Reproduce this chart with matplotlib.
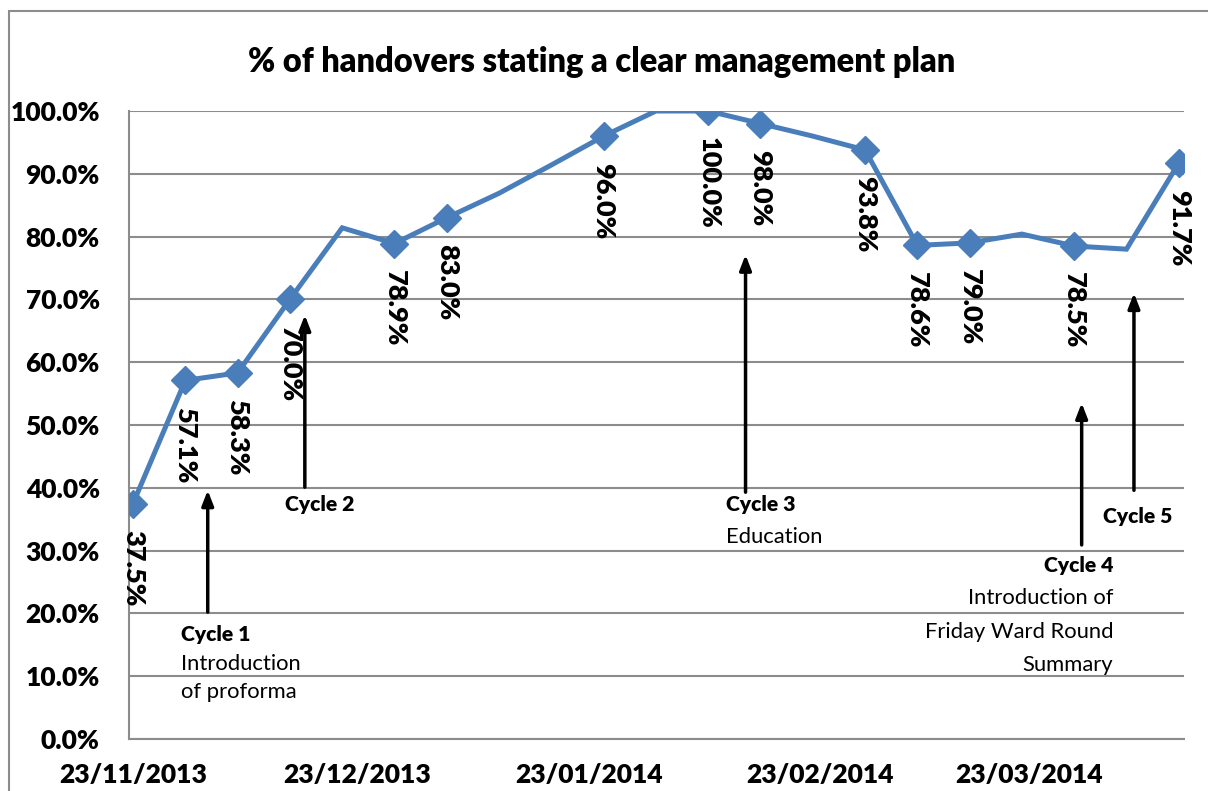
import matplotlib
matplotlib.use("Agg")
import matplotlib.pyplot as plt
import matplotlib.dates as mdates
from matplotlib.patches import Rectangle
from datetime import date

plt.rcParams['font.family'] = ['Lato', 'DejaVu Sans']

# weekly audit dates and % of handovers with a clear plan
dates = [date(2013, 11, 23), date(2013, 11, 30), date(2013, 12, 7), date(2013, 12, 14),
         date(2013, 12, 21), date(2013, 12, 28), date(2014, 1, 4), date(2014, 1, 11),
         date(2014, 1, 18), date(2014, 1, 25), date(2014, 2, 1), date(2014, 2, 8),
         date(2014, 2, 15), date(2014, 2, 22), date(2014, 3, 1), date(2014, 3, 8),
         date(2014, 3, 15), date(2014, 3, 22), date(2014, 3, 29), date(2014, 4, 5),
         date(2014, 4, 12)]
values = [37.5, 57.1, 58.3, 70.0, 81.4, 78.9, 83.0, 86.9, 91.4, 96.0, 100.0,
          100.0, 98.0, 96.0, 93.8, 78.6, 79.0, 80.4, 78.5, 78.0, 91.7]
# which weeks got a marker + label
labelled = [True, True, True, True, False, True, True, False, False, True, False,
            True, True, False, True, True, True, False, True, False, True]

tick_dates = [date(2013, 11, 23), date(2013, 12, 23), date(2014, 1, 23),
              date(2014, 2, 23), date(2014, 3, 23)]

# cycle annotations: arrow x, arrow tail y, arrow head y
cycle_x = [date(2013, 12, 3), date(2013, 12, 16), date(2014, 2, 13), date(2014, 3, 30), date(2014, 4, 6)]
cycle_y0 = [20.2, 40.1, 39.3, 30.9, 39.6]
cycle_y1 = [39.6, 67.5, 77.1, 53.5, 71.0]

blue = '#4A7EBB'
grid_c = '#8C8C8C'
W = 'heavy'

fig = plt.figure(figsize=(12.08, 7.91), dpi=100)
fig.patches.append(Rectangle((9 / 1208, -0.1), 1.2, 1 - 11 / 791 + 0.1, transform=fig.transFigure,
                             fill=False, edgecolor=grid_c, linewidth=1.5))
ax = fig.add_axes([129 / 1208, 1 - 739 / 791, (1184 - 129) / 1208, (739 - 111) / 791])

ax.plot(dates, values, color=blue, lw=3.6, zorder=3, solid_joinstyle='miter')
md = [d for d, l in zip(dates, labelled) if l]
mv = [v for v, l in zip(values, labelled) if l]
ax.plot(md, mv, ls='none', marker='D', ms=14, color=blue, zorder=4)
for d, v in zip(md, mv):
    ax.annotate('%.1f%%' % v, (d, v), xytext=(0, -19), textcoords='offset points',
                rotation=-90, ha='center', va='top', fontsize=19.5, fontweight=W)

x0 = mdates.date2num(date(2013, 11, 23))
ax.set_xlim(x0 - 0.54, x0 + 140.7)
ax.set_ylim(0, 100)
ax.set_yticks(range(0, 101, 10))
ax.set_yticklabels(['%.1f%%' % t for t in range(0, 101, 10)])
ax.set_xticks(tick_dates)
ax.set_xticklabels([d.strftime('%d/%m/%Y') for d in tick_dates])
ax.tick_params(axis='both', length=0, labelsize=19)
ax.tick_params(axis='y', pad=21)
ax.tick_params(axis='x', pad=17)
for lab in ax.get_xticklabels() + ax.get_yticklabels():
    lab.set_fontweight(W)
ax.grid(axis='y', color=grid_c, lw=1.5)
ax.set_axisbelow(True)
for s in ['top', 'right']:
    ax.spines[s].set_visible(False)
ax.spines['left'].set_color(grid_c)
ax.spines['bottom'].set_color(grid_c)
ax.spines['left'].set_linewidth(1.5)
ax.spines['bottom'].set_linewidth(1.5)

for cx, ya, yb in zip(cycle_x, cycle_y0, cycle_y1):
    ax.annotate('', xy=(cx, yb), xytext=(cx, ya),
                arrowprops=dict(arrowstyle='-|>,head_length=0.9,head_width=0.35', color='black', lw=2.5,
                                shrinkA=0, shrinkB=0), zorder=5)

def day(n):
    return x0 + n

fs = 15.8
ax.text(day(6.4), 16.6, 'Cycle 1', fontsize=fs - 0.6, fontweight=W, va='center', ha='left')
ax.text(day(6.4), 11.9, 'Introduction', fontsize=fs, va='center', ha='left')
ax.text(day(6.4), 7.5, 'of proforma', fontsize=fs, va='center', ha='left')
ax.text(day(20.3), 37.3, 'Cycle 2', fontsize=fs - 0.6, fontweight=W, va='center', ha='left')
ax.text(day(79.4), 37.3, 'Cycle 3', fontsize=fs - 0.6, fontweight=W, va='center', ha='left')
ax.text(day(79.4), 32.2, 'Education', fontsize=fs, va='center', ha='left')
ax.text(day(131.2), 27.7, 'Cycle 4', fontsize=fs - 0.6, fontweight=W, va='center', ha='right')
ax.text(day(131.2), 22.4, 'Introduction of', fontsize=fs, va='center', ha='right')
ax.text(day(131.2), 17.0, 'Friday Ward Round', fontsize=fs, va='center', ha='right')
ax.text(day(131.2), 11.8, 'Summary', fontsize=fs, va='center', ha='right')
ax.text(day(129.9), 35.5, 'Cycle 5', fontsize=fs - 0.6, fontweight=W, va='center', ha='left')

fig.text(602 / 1208, 1 - 62 / 791, '% of handovers stating a clear management plan',
         fontsize=23.5, fontweight=W, ha='center', va='center')

fig.savefig('out.png', dpi=100)
